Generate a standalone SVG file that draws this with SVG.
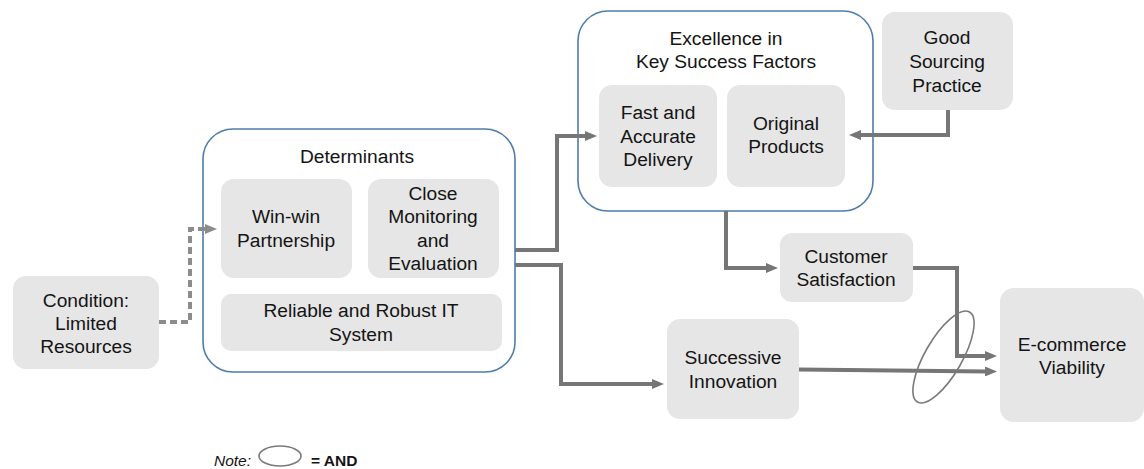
<svg xmlns="http://www.w3.org/2000/svg" width="1144" height="469" viewBox="0 0 1144 469">
<style>
.box{fill:#e6e6e6;stroke:none}
.cont{fill:#ffffff;stroke:#4f7cab;stroke-width:1.6}
text{font-family:"Liberation Sans",Arial,Helvetica,sans-serif;font-size:19.2px;fill:#141414;text-anchor:middle}
.conn{fill:none;stroke:#767676;stroke-width:4}
.dash{fill:none;stroke:#8c8c8c;stroke-width:4;stroke-dasharray:7 4}
.and{fill:none;stroke:#7a7a7a;stroke-width:1.6}
.note{font-size:15.5px;text-anchor:start}
</style>
<defs>
<marker id="ah" viewBox="0 0 12 10" refX="2" refY="5" markerWidth="12" markerHeight="10" markerUnits="userSpaceOnUse" orient="auto">
<path d="M0,0 L12,5 L0,10 z" fill="#767676"/>
</marker>
<marker id="ahd" viewBox="0 0 12 10" refX="2" refY="5" markerWidth="12" markerHeight="10" markerUnits="userSpaceOnUse" orient="auto">
<path d="M0,0 L12,5 L0,10 z" fill="#8c8c8c"/>
</marker>
</defs>

<g id="determinants">
<rect class="cont" x="203" y="129" width="312" height="243" rx="30"/>
<text x="357" y="163">Determinants</text>
</g>
<g id="winwin">
<rect class="box" x="221" y="179" width="131" height="99" rx="13"/>
<text x="286" y="223">Win-win</text>
<text x="286" y="247">Partnership</text>
</g>
<g id="monitoring">
<rect class="box" x="368" y="179" width="131" height="99" rx="13"/>
<text x="433" y="200">Close</text>
<text x="433" y="223">Monitoring</text>
<text x="433" y="247">and</text>
<text x="433" y="270">Evaluation</text>
</g>
<g id="itsystem">
<rect class="box" x="221" y="294" width="281" height="57" rx="10"/>
<text x="361" y="317">Reliable and Robust IT</text>
<text x="361" y="341">System</text>
</g>

<g id="condition">
<rect class="box" x="13" y="276" width="146" height="93" rx="13"/>
<text x="86" y="307">Condition:</text>
<text x="86" y="330">Limited</text>
<text x="86" y="353">Resources</text>
</g>

<g id="excellence">
<rect class="cont" x="578" y="11" width="295" height="200" rx="30"/>
<text x="726" y="45">Excellence in</text>
<text x="726" y="68">Key Success Factors</text>
</g>
<g id="delivery">
<rect class="box" x="599" y="85" width="118" height="102" rx="13"/>
<text x="658" y="119">Fast and</text>
<text x="658" y="143">Accurate</text>
<text x="658" y="166">Delivery</text>
</g>
<g id="original">
<rect class="box" x="727" y="85" width="118" height="102" rx="13"/>
<text x="786" y="130">Original</text>
<text x="786" y="153">Products</text>
</g>

<g id="sourcing">
<rect class="box" x="882" y="12" width="131" height="98" rx="13"/>
<text x="947" y="44">Good</text>
<text x="947" y="68">Sourcing</text>
<text x="947" y="92">Practice</text>
</g>

<g id="satisfaction">
<rect class="box" x="780" y="233" width="133" height="69" rx="12"/>
<text x="846" y="263">Customer</text>
<text x="846" y="286">Satisfaction</text>
</g>

<g id="innovation">
<rect class="box" x="667" y="319" width="132" height="100" rx="13"/>
<text x="733" y="364">Successive</text>
<text x="733" y="388">Innovation</text>
</g>

<g id="viability">
<rect class="box" x="1000" y="288" width="144" height="134" rx="14"/>
<text x="1072" y="351">E-commerce</text>
<text x="1072" y="374">Viability</text>
</g>

<g id="connectors">
<path class="dash" d="M159,322 H190 V229 H207" marker-end="url(#ahd)"/>
<path class="conn" d="M515,250 H557 V136 H587" marker-end="url(#ah)"/>
<path class="conn" d="M515,265 H561 V384 H654" marker-end="url(#ah)"/>
<path class="conn" d="M726,211 V268 H768" marker-end="url(#ah)"/>
<path class="conn" d="M948,110 V135 H859" marker-end="url(#ah)"/>
<path class="conn" d="M913,268 H957 V356 H987" marker-end="url(#ah)"/>
<path class="conn" d="M799,369.5 L987,371.5" marker-end="url(#ah)"/>
</g>

<g id="and-symbol">
<ellipse class="and" cx="943.5" cy="357" rx="52" ry="18.5" transform="rotate(-60 943.5 357)"/>
</g>

<g id="legend">
<text class="note" x="214" y="466" font-style="italic">Note:</text>
<ellipse class="and" cx="280" cy="456" rx="21" ry="10"/>
<text class="note" x="311" y="466" font-weight="bold">= AND</text>
</g>
</svg>
